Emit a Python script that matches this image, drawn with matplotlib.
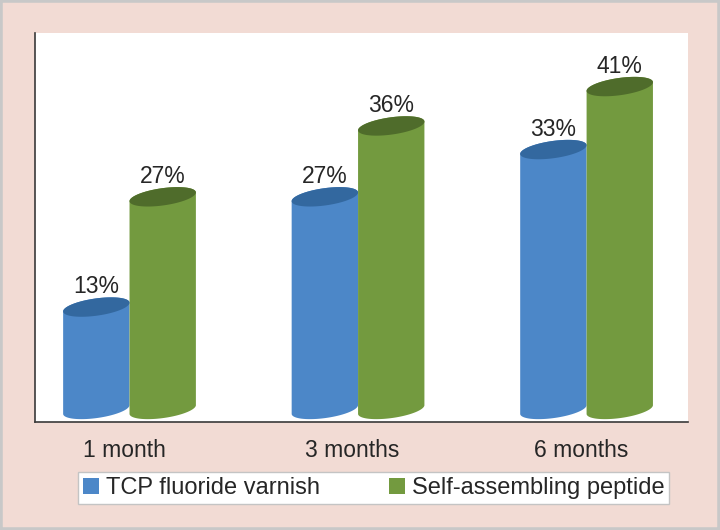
import numpy as np
import matplotlib
matplotlib.use('Agg')
import matplotlib.pyplot as plt
from matplotlib.patches import Polygon, Patch, Rectangle

plt.rcParams['font.family'] = ['Liberation Sans', 'DejaVu Sans']

# data
categories = ['1 month', '3 months', '6 months']
series_names = ['TCP fluoride varnish', 'Self-assembling peptide']
tcp_values = [13, 27, 33]
peptide_values = [27, 36, 41]

side_colors = ['#4c87c8', '#739a3f']
top_colors = ['#33689f', '#4f6c2b']
pink = '#f2dbd4'
text_color = '#262626'

fig = plt.figure(figsize=(7.2, 5.3), dpi=100, facecolor=pink)
ax = fig.add_axes([0.0486, 0.2043, 0.907, 0.7334])
ax.set_facecolor('white')
ax.set_xlim(-0.4136, 2.444)
ax.set_ylim(-1.56, 47.8)

# pixels per data unit, used to keep the cylinder ellipses round-looking
bb = ax.get_window_extent()
px_x = bb.width / (ax.get_xlim()[1] - ax.get_xlim()[0])
px_y = bb.height / (ax.get_ylim()[1] - ax.get_ylim()[0])

a, b, theta = 33.5, 8.6, np.deg2rad(8.0)


def ellipse_pts(cx, cy, t):
  ex = a * np.cos(t) * np.cos(theta) - b * np.sin(t) * np.sin(theta)
  ey = a * np.cos(t) * np.sin(theta) + b * np.sin(t) * np.cos(theta)
  return np.column_stack([cx + ex / px_x, cy + ey / px_y])


def cylinder(cx, value, side, top):
  lower = ellipse_pts(cx, 0, np.linspace(np.pi, 2 * np.pi, 60))
  upper = ellipse_pts(cx, value, np.linspace(0, np.pi, 60))
  ax.add_patch(Polygon(np.vstack([lower, upper]), closed=True,
      facecolor=side, edgecolor='none', zorder=3))
  cap = ellipse_pts(cx, value, np.linspace(0, 2 * np.pi, 120))
  ax.add_patch(Polygon(cap, closed=True, facecolor=top,
      edgecolor='none', zorder=4))
  ax.annotate('%d%%' % value, xy=(cx, value), xytext=(0, 10),
      textcoords='offset points', ha='center', va='baseline',
      fontsize=16.5, color=text_color, zorder=5)


half = 33.2 / px_x
x = np.arange(len(categories))
for i in range(len(categories)):
  cylinder(x[i] - half, tcp_values[i], side_colors[0], top_colors[0])
  cylinder(x[i] + half, peptide_values[i], side_colors[1], top_colors[1])

# category labels
ax.set_xticks([])
ax.set_yticks([])
for i, cat in enumerate(categories):
  ax.annotate(cat, xy=(x[i], 0), xycoords=('data', 'axes fraction'),
      xytext=(-4, -20.5), textcoords='offset points', ha='center',
      va='center', fontsize=16.5, color=text_color, annotation_clip=False)

for s in ['top', 'right']:
  ax.spines[s].set_visible(False)
for s in ['left', 'bottom']:
  ax.spines[s].set_color('#3a3a3a')
  ax.spines[s].set_linewidth(1.2)

handles = [Patch(facecolor=c, edgecolor='none') for c in side_colors]
leg = fig.legend(handles, series_names, loc='center',
    bbox_to_anchor=(0.519, 0.079), ncol=2, fontsize=17, frameon=True,
    fancybox=False, framealpha=1, edgecolor='#c4c4c4',
    handlelength=0.68, handleheight=0.68, handletextpad=0.3,
    columnspacing=2.9, borderpad=0.2, borderaxespad=0)
leg.get_frame().set_linewidth(1.0)
for t in leg.get_texts():
  t.set_color(text_color)

# grey outer frame
fig.patches.append(Rectangle((0, 0), 1, 1, transform=fig.transFigure,
    fill=False, edgecolor='#c8c8c8', linewidth=4, zorder=10))

fig.savefig('out.png', dpi=100, facecolor=pink)
